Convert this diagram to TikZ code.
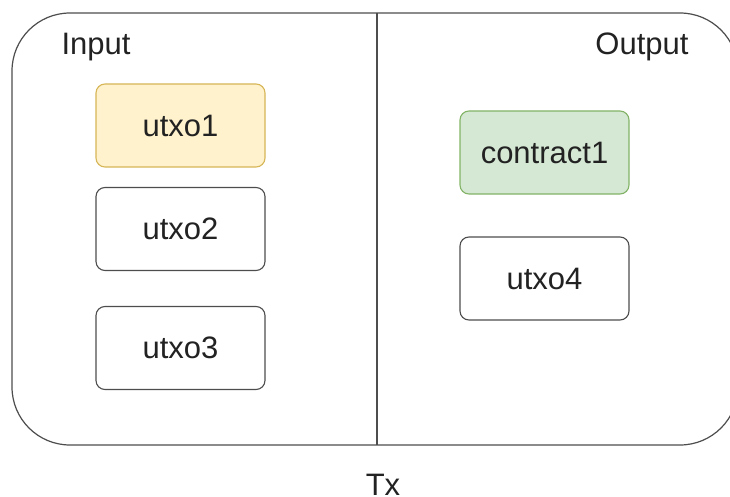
\documentclass[tikz,border=0pt]{standalone}
\usepackage{fontspec}
\setmainfont{Liberation Sans}
\definecolor{edge}{HTML}{4D4D4D}
\definecolor{ink}{HTML}{222222}
\definecolor{yfill}{HTML}{FFF2CC}
\definecolor{yline}{HTML}{D6B656}
\definecolor{gfill}{HTML}{D5E8D4}
\definecolor{gline}{HTML}{82B366}
\tikzset{
  item/.style={draw=edge, line width=1.1pt, rounded corners=9pt, fill=white,
    minimum width=169pt, minimum height=83pt, text=ink,
    font=\fontsize{31}{36}\selectfont, inner sep=0pt},
  label/.style={text=ink, font=\fontsize{31}{36}\selectfont, inner sep=0pt}
}
\begin{document}
\begin{tikzpicture}[x=1pt,y=-1pt]
  \useasboundingbox (0,0) rectangle (730,497);
  % outer transaction frame (its right side runs past the page edge)
  \begin{scope}
    \clip (0,0) rectangle (730,497);
    \draw[edge, line width=1.2pt, rounded corners=58pt] (12,13) rectangle (738,445);
  \end{scope}
  \coordinate (divtop) at (377,13);
  \coordinate (divbot) at (377,445);
  \draw[edge, line width=1.1pt] (divtop) -- (divbot);
  % headings
  \node[label, anchor=center] (in) at (96,47) {Input};
  \node[label, anchor=center] (out) at (642,47) {Output};
  \node[label, anchor=base] (tx) at (383,495) {Tx};
  % inputs
  \node[item, fill=yfill, draw=yline] (u1) at (180.5,125.5) {utxo1};
  \node[item] (u2) at (180.5,229) {utxo2};
  \node[item] (u3) at (180.5,348) {utxo3};
  % outputs
  \node[item, fill=gfill, draw=gline] (c1) at (544.5,152.5) {contract1};
  \node[item] (u4) at (544.5,278.5) {utxo4};
\end{tikzpicture}
\end{document}
